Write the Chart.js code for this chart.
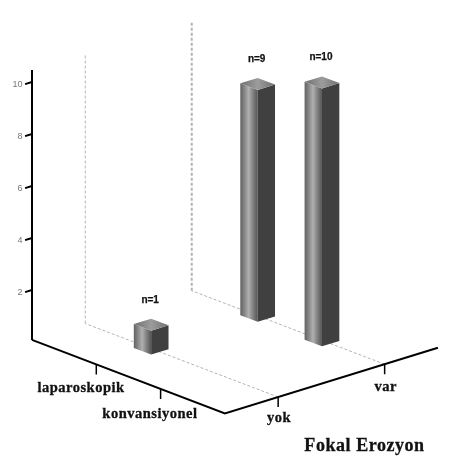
<!DOCTYPE html>
<html>
<head>
<meta charset="utf-8">
<style>
  html, body { margin: 0; padding: 0; background: #fff; }
  canvas { display: block; }
</style>
<script src="https://cdn.jsdelivr.net/npm/chart.js@4/dist/chart.umd.min.js"></script>
</head>
<body>
<canvas id="grafico" width="459" height="461"></canvas>
<script>
// ===============================
// DATOS
// ===============================
const categorias = ["laparoskopik", "konvansiyonel"];
const profundidad = ["yok", "var"];
const valoresYok = [1, 0];
const valoresVar = [9, 10];
const ticksValor = [2, 4, 6, 8, 10];
const tituloEje = "Fokal Erozyon";

// ===============================
// PROYECCION OBLICUA (u = categoria, v = profundidad, z = valor)
// ===============================
const ORIGEN_X = 32;
const PX_Z = 26;
const Z_BASE = 0.08;
const Z_TOPE = 10.46;
const U = { x: 64.3, y: 24.5 };
const V = { x: 53.25, y: -16.4 };
const MEDIO_U = 0.135;
const MEDIO_V = 0.163;
const DESP_BARRA = 0.025;
const U_FIN = categorias.length + 1;
const V_FIN = profundidad.length * 2;

function p(u, v, z) {
  return {
    x: ORIGEN_X + u * U.x + v * V.x,
    y: z - (u * U.y + v * V.y) / PX_Z
  };
}
const posU = (i) => i + 1;
const posV = (j) => j * 2 + 1;

const datasets = [];

function linea(puntos, color, ancho, dash) {
  datasets.push({
    type: "scatter",
    data: puntos,
    showLine: true,
    fill: false,
    pointRadius: 0,
    borderColor: color,
    borderWidth: ancho,
    borderDash: dash || [],
    borderCapStyle: "butt",
    borderJoinStyle: "miter",
    tension: 0
  });
}

function cara(puntos, fondo) {
  datasets.push({
    type: "scatter",
    data: puntos.concat([puntos[0]]),
    showLine: true,
    fill: "shape",
    pointRadius: 0,
    borderWidth: 0,
    borderColor: "transparent",
    backgroundColor: fondo,
    tension: 0
  });
}

// degradado horizontal entre dos puntos del dato
function degradado(a, b, paradas) {
  return (c) => {
    const esc = c.chart.scales.x;
    if (!esc || !c.chart.chartArea) return paradas[0][1];
    const g = c.chart.ctx.createLinearGradient(esc.getPixelForValue(a.x), 0, esc.getPixelForValue(b.x), 0);
    paradas.forEach(s => g.addColorStop(s[0], s[1]));
    return g;
  };
}

// ===============================
// LINEAS PUNTEADAS DE FONDO
// ===============================
profundidad.forEach((d, j) => {
  const v = posV(j);
  linea([p(U_FIN, v, Z_BASE), p(0, v, Z_BASE)], "#b4b4b4", 1, [3, 2]);
  linea([p(0, v, Z_BASE), p(0, v, Z_TOPE)], "#b4b4b4", 1 + j, [3, 2]);
});

// ===============================
// BARRAS
// ===============================
const barras = [];
[valoresYok, valoresVar].forEach((fila, j) => {
  fila.forEach((valor, i) => {
    if (valor > 0) barras.push({ u: posU(i) + DESP_BARRA, v: posV(j), valor });
  });
});

const PARADAS_FRENTE = [[0, "#626262"], [0.2, "#808080"], [0.48, "#b0b0b0"], [0.75, "#7e7e7e"], [1, "#555555"]];
const PARADAS_TOPE = [[0, "#6e6e6e"], [0.3, "#8a8a8a"], [0.5, "#9c9c9c"], [1, "#707070"]];

barras.forEach(b => {
  const ui = b.u - MEDIO_U, ud = b.u + MEDIO_U;
  const vf = b.v - MEDIO_V, vt = b.v + MEDIO_V;
  const z0 = Z_BASE, z1 = b.valor;

  const izqAbajo = p(ui, vf, z0), frenteAbajo = p(ud, vf, z0), derAbajo = p(ud, vt, z0);
  const izqArriba = p(ui, vf, z1), frenteArriba = p(ud, vf, z1), derArriba = p(ud, vt, z1), atras = p(ui, vt, z1);

  cara([izqAbajo, frenteAbajo, frenteArriba, izqArriba], degradado(izqAbajo, frenteAbajo, PARADAS_FRENTE));
  cara([frenteAbajo, derAbajo, derArriba, frenteArriba], "#404040");
  cara([izqArriba, atras, derArriba, frenteArriba], degradado(izqArriba, derArriba, PARADAS_TOPE));
});

// ===============================
// EJES Y MARCAS
// ===============================
linea([p(0, 0, Z_BASE), p(0, 0, Z_TOPE)], "#000", 2);
linea([p(0, 0, Z_BASE), p(U_FIN, 0, Z_BASE), p(U_FIN, V_FIN, Z_BASE)], "#000", 2);

ticksValor.forEach(t => linea([p(0, 0, t), p(0, -0.13, t)], "#000", 2));
categorias.forEach((c, i) => {
  const a = p(posU(i), 0, Z_BASE);
  linea([a, { x: a.x, y: a.y - 10 / PX_Z }], "#000", 1.5);
});
profundidad.forEach((d, j) => {
  const a = p(U_FIN, posV(j), Z_BASE);
  linea([a, { x: a.x, y: a.y - 10 / PX_Z }], "#000", 1.5);
});

// primero en la lista = dibujado primero (fondo)
datasets.forEach((d, i) => { d.order = datasets.length - i; });

// ===============================
// TEXTOS
// ===============================
const SERIF = '"Liberation Serif", serif';
const SANS = '"Liberation Sans", sans-serif';

const pluginTextos = {
  id: "textos",
  afterDatasetsDraw(chart) {
    const { ctx, scales } = chart;
    const px = (q) => ({ x: scales.x.getPixelForValue(q.x), y: scales.y.getPixelForValue(q.y) });

    function texto(t, x, y, fuente, color, espacio, alin, trazo) {
      ctx.font = fuente;
      ctx.fillStyle = color;
      ctx.letterSpacing = espacio || "0px";
      ctx.textAlign = alin || "center";
      ctx.textBaseline = "alphabetic";
      ctx.fillText(t, x, y);
      if (trazo) {
        ctx.strokeStyle = color;
        ctx.lineWidth = trazo;
        ctx.strokeText(t, x, y);
      }
    }

    ctx.save();
    ticksValor.forEach(t => {
      const a = px(p(0, 0, t));
      texto(String(t), a.x - 9.5, a.y + 4.5, "9px " + SANS, "#777", "0px", "right");
    });
    categorias.forEach((c, i) => {
      const a = px(p(posU(i), 0, Z_BASE));
      texto(c, a.x - 15.3 + 4.6 * i, a.y + 28 + i, "bold 14.5px " + SERIF, "#111", "0.5px", "center", 0.3);
    });
    profundidad.forEach((d, j) => {
      const a = px(p(U_FIN, posV(j), Z_BASE));
      texto(d, a.x + 1, a.y + 24.5 + j * 2, "bold 14.5px " + SERIF, "#111", "0.5px", "center", 0.3);
    });
    barras.forEach(b => {
      const a = px(p(b.u, b.v, b.valor));
      texto("n=" + b.valor, a.x - 1, a.y - 22, "bold 10px " + SANS, "#111", "0px", "center", 0.25);
    });
    texto(tituloEje, 364.5, 451, "bold 18px " + SERIF, "#111", "0.55px", "center", 0.3);
    ctx.restore();
  }
};

// ===============================
// GRAFICO
// ===============================
const ctx = document.getElementById("grafico").getContext("2d");
const grafico = new Chart(ctx, {
  type: "scatter",
  data: { datasets },
  options: {
    responsive: false,
    animation: false,
    layout: { padding: 0, autoPadding: false },
    plugins: { legend: { display: false }, tooltip: { enabled: false } },
    scales: {
      x: { type: "linear", min: 0, max: 459, display: false },
      y: { type: "linear", min: (342 - 461) / PX_Z, max: 342 / PX_Z, display: false }
    }
  },
  plugins: [pluginTextos]
});
</script>
</body>
</html>
